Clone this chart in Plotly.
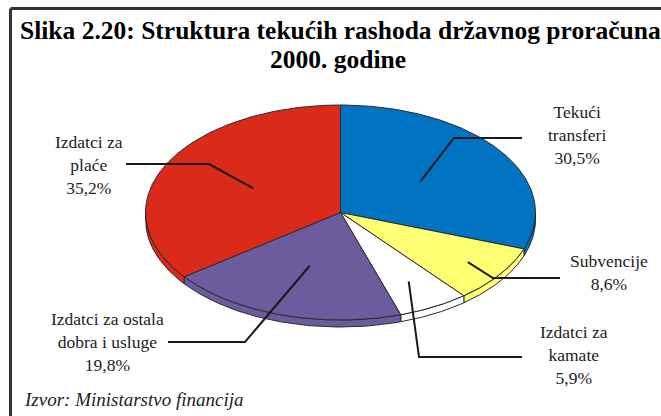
import numpy as np
import plotly.graph_objects as go

# ---- data ----
categories = ["Tekući transferi", "Subvencije", "Izdatci za kamate",
              "Izdatci za ostala dobra i usluge", "Izdatci za plaće"]
label_texts = ["Tekući<br>transferi", "Subvencije", "Izdatci za<br>kamate",
               "Izdatci za ostala<br>dobra i usluge", "Izdatci za<br>plaće"]
shares = [30.5, 8.6, 5.9, 19.8, 35.2]
colors = ["#0073C2", "#FFFF73", "#FFFFFF", "#6C5C9E", "#DA2A1A"]

title_lines = ["Slika 2.20: Struktura tekućih rashoda državnog proračuna",
               "2000. godine"]
source_text = "Izvor: Ministarstvo financija"

# ---- layout constants (pixel space) ----
W, H = 661, 416
CX, CY, RX, RY, DEPTH = 340.5, 212.5, 195, 107.5, 7
FONT = "Liberation Serif"
EDGE = "#2a2a2a"

# leader line settings: radius fraction of start point, knee, end, label anchor
leader_frac = [0.5, 0.8, 0.73, 0.52, 0.5]
leader_knee = [(454, 138), (493, 278), (419, 357), (245, 342), (209, 164)]
leader_end = [(522, 138), (560, 278), (522, 357), (168, 342), (126, 164)]
label_pos = [(577, 135), (609, 272), (574, 355), (107, 342), (89, 165)]


def ell(theta_deg, frac=1.0, dy=0.0):
    t = np.radians(theta_deg)
    return CX + RX * frac * np.sin(t), CY - RY * frac * np.cos(t) + dy


fig = go.Figure()

total = sum(shares)
bounds = np.concatenate([[0], np.cumsum(shares)]) / total * 360.0

# sides (front half only, 90..270 deg)
for i in range(len(shares)):
    a, b = bounds[i], bounds[i + 1]
    lo, hi = max(a, 90), min(b, 270)
    if hi <= lo:
        continue
    th = np.linspace(lo, hi, 60)
    xt, yt = ell(th)
    xb, yb = ell(th[::-1], dy=DEPTH)
    xs = np.concatenate([xt, xb, xt[:1]])
    ys = np.concatenate([yt, yb, yt[:1]])
    fig.add_trace(go.Scatter(x=xs, y=ys, mode="lines", fill="toself",
                             fillcolor=colors[i], line=dict(color=EDGE, width=1),
                             hoverinfo="skip", showlegend=False))

# top faces
for i in range(len(shares)):
    a, b = bounds[i], bounds[i + 1]
    th = np.linspace(a, b, 120)
    xa, ya = ell(th)
    xs = np.concatenate([[CX], xa, [CX]])
    ys = np.concatenate([[CY], ya, [CY]])
    fig.add_trace(go.Scatter(x=xs, y=ys, mode="lines", fill="toself",
                             fillcolor=colors[i], line=dict(color=EDGE, width=1),
                             hoverinfo="skip", showlegend=False,
                             name=categories[i]))

# leader lines and labels
for i in range(len(shares)):
    mid = (bounds[i] + bounds[i + 1]) / 2
    sx, sy = ell(mid, frac=leader_frac[i])
    kx, ky = leader_knee[i]
    ex, ey = leader_end[i]
    fig.add_trace(go.Scatter(x=[sx, kx, ex], y=[sy, ky, ey], mode="lines",
                             line=dict(color="#1a1a1a", width=2),
                             hoverinfo="skip", showlegend=False))
    pct = f"{shares[i]:.1f}%".replace(".", ",")
    lx, ly = label_pos[i]
    fig.add_annotation(x=lx, y=ly, text=f"{label_texts[i]}<br>{pct}",
                       showarrow=False, xanchor="center", yanchor="middle",
                       font=dict(family=FONT, size=17.5, color="#222222"),
                       align="center")

# title
fig.add_annotation(x=340, y=30.5, text=f"<b>{title_lines[0]}</b>", showarrow=False,
                   xanchor="center", yanchor="middle",
                   font=dict(family=FONT, size=25.5, color="#000000"))
fig.add_annotation(x=338, y=59, text=f"<b>{title_lines[1]}</b>", showarrow=False,
                   xanchor="center", yanchor="middle",
                   font=dict(family=FONT, size=25.5, color="#000000"))

# source
fig.add_annotation(x=22, y=399, text=f"<i>{source_text}</i>", showarrow=False,
                   xanchor="left", yanchor="middle",
                   font=dict(family=FONT, size=19, color="#222222"))

# frame
fig.add_shape(type="line", x0=10.5, x1=10.5, y0=8.5, y1=H + 5, xref="x", yref="y",
              line=dict(color="#333333", width=3))
fig.add_shape(type="line", x0=10.5, x1=W + 5, y0=8.5, y1=8.5, xref="x", yref="y",
              line=dict(color="#333333", width=3))

fig.update_layout(
    width=W, height=H, margin=dict(l=0, r=0, t=0, b=0),
    paper_bgcolor="white", plot_bgcolor="white",
    font=dict(family=FONT),
    xaxis=dict(range=[0, W], visible=False, fixedrange=True),
    yaxis=dict(range=[H, 0], visible=False, fixedrange=True),
    showlegend=False,
)

fig.write_html("out.html", config={"displayModeBar": False},
               post_script="document.body.style.margin='0px';"
                           "document.body.style.overflow='hidden';")
